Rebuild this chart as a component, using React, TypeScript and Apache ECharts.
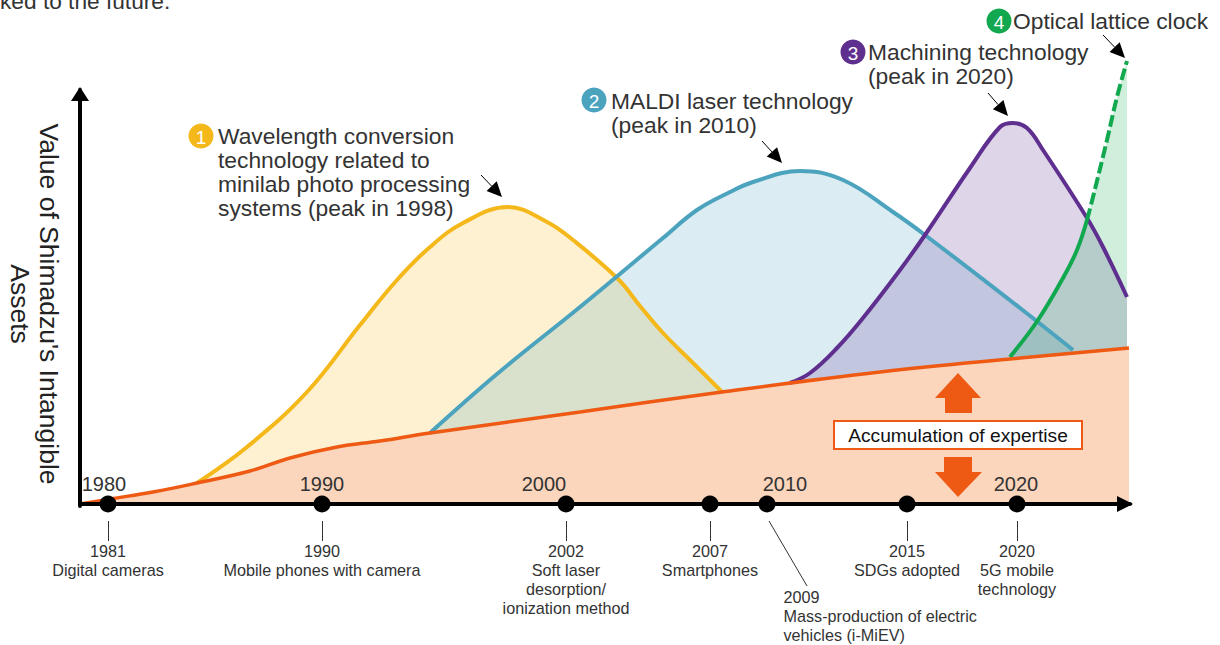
import React, { useEffect, useRef } from "react";
import * as echarts from "echarts";

const FONT = "Liberation Sans";
const INK = "#333333";

// Curves: [position along the timeline, height above the axis]
const yellowCurve = [[117, 21], [167, 57], [227, 112], [280, 179], [317, 224], [350, 257], [383, 281], [428, 297], [467, 282], [493, 264], [538, 225], [560, 198], [583, 171], [612, 142], [642, 112]];
const blueCurve = [[350, 71], [417, 130], [500, 197], [583, 266], [617, 294], [650, 312], [673, 322], [720, 333], [763, 324], [813, 292], [845, 269], [940, 196], [993, 154]];
const purpleCurve = [[710, 121], [730, 131], [757, 156], [783, 186], [820, 234], [845, 269], [890, 336], [920, 377], [933, 381], [947, 376], [963, 354], [1007, 286], [1023, 257], [1047, 207]];
const greenSolid = [[930, 147], [958, 184], [983, 226], [997, 254], [1007, 284]];
const greenDashed = [[1007, 284], [1013, 307], [1027, 364], [1037, 407], [1047, 443]];
const orangeCurve = [[0, 0], [30, 5], [73, 12], [117, 21], [170, 33], [210, 46], [257, 57], [300, 63], [350, 71], [500, 92], [642, 112], [800, 132], [940, 146], [1049, 156]];

const decadeLabels = ["1980", "1990", "2000", "2010", "2020"];
const decadePositions = [24, 242, 464, 705, 936];

const eventPositions = [28, 242, 486, 630, 687, 827, 937];
const eventLabels = [
  "1981\nDigital cameras",
  "1990\nMobile phones with camera",
  "2002\nSoft laser\ndesorption/\nionization method",
  "2007\nSmartphones",
  "2009\nMass-production of electric\nvehicles (i-MiEV)",
  "2015\nSDGs adopted",
  "2020\n5G mobile\ntechnology",
];
const slantedEvent = "2009\nMass-production of electric\nvehicles (i-MiEV)";

const annotations = [
  { badge: "1", color: "#F5B81A", cx: 201, cy: 136, x: 218, ys: [136, 160, 184, 208], lines: ["Wavelength conversion", "technology related to", "minilab photo processing", "systems (peak in 1998)"], arrow: [481, 175, 502, 197] },
  { badge: "2", color: "#4BA3BE", cx: 594, cy: 100, x: 611, ys: [101, 125], lines: ["MALDI laser technology", "(peak in 2010)"], arrow: [762, 141, 782, 163] },
  { badge: "3", color: "#5F2F8F", cx: 853, cy: 52, x: 868, ys: [52, 76], lines: ["Machining technology", "(peak in 2020)"], arrow: [988, 93, 1008, 116] },
  { badge: "4", color: "#12A84F", cx: 999, cy: 21, x: 1013, ys: [21], lines: ["Optical lattice clock"], arrow: [1103, 35, 1125, 58] },
];

function arrowShapes(a: number[]) {
  const [x1, y1, x2, y2] = a;
  const len = Math.hypot(x2 - x1, y2 - y1);
  const ux = (x2 - x1) / len;
  const uy = (y2 - y1) / len;
  const bx = x2 - ux * 15;
  const by = y2 - uy * 15;
  return [
    { type: "line", shape: { x1, y1, x2: bx, y2: by }, style: { stroke: "#000", lineWidth: 1 } },
    { type: "polygon", shape: { points: [[x2, y2], [bx - uy * 7, by + ux * 7], [bx + uy * 7, by - ux * 7]] }, style: { fill: "#000" } },
  ];
}

function curve(name: string, data: number[][], color: string, fill: boolean, lineWidth: number) {
  return {
    name,
    type: "line",
    data,
    smooth: 0.4,
    symbol: "none",
    clip: false,
    lineStyle: { color, width: lineWidth, cap: "butt" },
    areaStyle: fill ? { color, opacity: 0.2 } : undefined,
    z: 2,
  };
}

export default function App() {
  const ref = useRef<HTMLDivElement>(null);
  useEffect(() => {
    const chart = echarts.init(ref.current!, undefined, { renderer: "svg" });
    const graphic: any[] = [];
    graphic.push({ type: "text", x: 0, y: 1, style: { text: "ked to the future.", fontFamily: FONT, fontSize: 22.7, fill: INK, textVerticalAlign: "middle" }, z: 10 });
    annotations.forEach((a) => {
      graphic.push({ type: "circle", shape: { cx: a.cx, cy: a.cy, r: 12.5 }, style: { fill: a.color }, z: 10 });
      graphic.push({ type: "text", x: a.cx, y: a.cy + 1, style: { text: a.badge, fontFamily: FONT, fontSize: 19, fill: "#fff", textAlign: "center", textVerticalAlign: "middle" }, z: 11 });
      a.lines.forEach((t, i) => {
        graphic.push({ type: "text", x: a.x, y: a.ys[i], style: { text: t, fontFamily: FONT, fontSize: 22.8, fill: INK, textVerticalAlign: "middle" }, z: 10 });
      });
      arrowShapes(a.arrow).forEach((s) => graphic.push({ ...s, z: 10 }));
    });
    graphic.push({ type: "polygon", shape: { points: [[958, 373], [981, 398], [972, 398], [972, 413], [945, 413], [945, 398], [935, 398]] }, style: { fill: "#EE5A14" }, z: 10 });
    graphic.push({ type: "polygon", shape: { points: [[958, 497], [982, 472], [972, 472], [972, 457], [944, 457], [944, 472], [935, 472]] }, style: { fill: "#EE5A14" }, z: 10 });
    graphic.push({ type: "rect", shape: { x: 834, y: 421, width: 248, height: 28 }, style: { fill: "#fff", stroke: "#EE5A14", lineWidth: 2 }, z: 10 });
    graphic.push({ type: "text", x: 958, y: 435, style: { text: "Accumulation of expertise", fontFamily: FONT, fontSize: 19.2, fill: "#111", textAlign: "center", textVerticalAlign: "middle" }, z: 11 });

    const noAxis = { axisTick: { show: false }, axisLabel: { show: false }, splitLine: { show: false } };
    chart.setOption({
      animation: false,
      backgroundColor: "#fff",
      textStyle: { fontFamily: FONT },
      grid: [
        { left: 80, right: 90, top: 45, bottom: 0, outerBoundsMode: "none" },
        { left: 80, right: 90, top: 90, bottom: 139, outerBoundsMode: "none" },
      ],
      xAxis: [
        {
          type: "value", gridIndex: 0, min: 0, max: 1050, z: 3, ...noAxis,
          axisLine: { show: true, onZero: true, symbol: ["none", "triangle"], symbolSize: [16, 16], symbolOffset: [0, -5], lineStyle: { color: "#000", width: 4 } },
        },
        { type: "value", gridIndex: 1, min: 0, max: 1050, show: false },
      ],
      yAxis: [
        { type: "value", gridIndex: 0, min: -141, max: 459, show: false },
        {
          type: "value", gridIndex: 1, min: 0, max: 416, z: 3, ...noAxis,
          name: "Value of Shimadzu's Intangible\nAssets",
          nameLocation: "middle",
          nameRotate: -90,
          nameGap: 17,
          nameTextStyle: { fontFamily: FONT, fontSize: 26.5, lineHeight: 29, color: "#222", padding: [0, 0, 0, 12] },
          axisLine: { show: true, symbol: ["none", "triangle"], symbolSize: [18, 14], symbolOffset: [0, -4], lineStyle: { color: "#000", width: 4 } },
        },
      ],
      series: [
        curve("Wavelength conversion technology", yellowCurve, "#F5B81A", true, 4),
        curve("MALDI laser technology", blueCurve, "#4BA3BE", true, 4),
        curve("Machining technology", purpleCurve, "#5F2F8F", true, 4),
        { ...curve("Optical lattice clock area", [...greenSolid, ...greenDashed.slice(1)], "#12A84F", true, 0), lineStyle: { width: 0, opacity: 0 } },
        curve("Optical lattice clock", greenSolid, "#12A84F", false, 4),
        { ...curve("Optical lattice clock forecast", greenDashed, "#12A84F", false, 4), lineStyle: { color: "#12A84F", width: 4, type: [12, 4] } },
        { ...curve("Accumulation of expertise", orangeCurve, "#EE5A14", false, 3.5), areaStyle: { color: "#FBD5BC", opacity: 1 } },
        {
          name: "Decades",
          type: "scatter",
          symbolSize: 0,
          z: 5,
          silent: true,
          itemStyle: { opacity: 1 },
          data: decadeLabels.map((d, i) => ({
            value: [decadePositions[i], 20],
            label: { show: true, position: "inside", formatter: d, fontFamily: FONT, fontSize: 20, color: INK },
          })),
        },
        {
          name: "Leaders",
          type: "lines",
          coordinateSystem: "cartesian2d",
          z: 4,
          silent: true,
          lineStyle: { color: INK, width: 1, opacity: 1 },
          data: eventPositions.map((x, i) => ({
            coords: eventLabels[i] === slantedEvent ? [[x + 2, -17], [x + 40, -82]] : [[x, -17], [x, -37]],
          })),
        },
        {
          name: "Events",
          type: "scatter",
          symbolSize: 17,
          z: 5,
          silent: true,
          itemStyle: { color: "#000", opacity: 1 },
          data: eventPositions.map((x, i) => ({
            value: [x, 0],
            label: {
              show: true,
              formatter: eventLabels[i],
              fontFamily: FONT,
              fontSize: 16.2,
              lineHeight: 19,
              color: INK,
              ...(eventLabels[i] === slantedEvent
                ? { position: [25, 92], align: "left", verticalAlign: "top" }
                : { position: "bottom", distance: 29, align: "center" }),
            },
          })),
        },
      ],
      graphic,
    });
    return () => chart.dispose();
  }, []);
  return <div ref={ref} style={{ position: "absolute", left: 0, top: 0, width: 1220, height: 645 }} />;
}
